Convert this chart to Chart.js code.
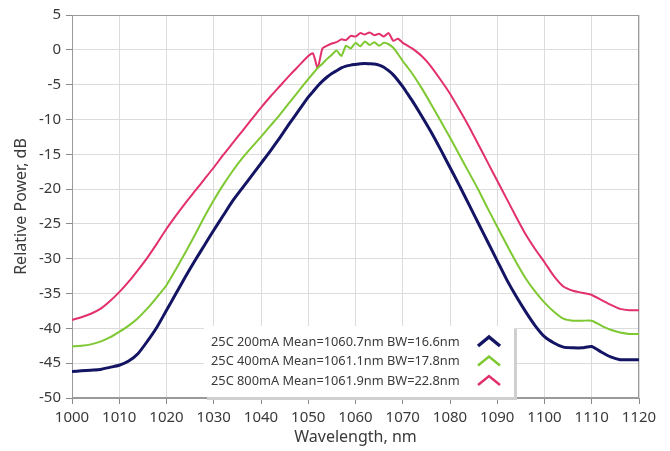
<!DOCTYPE html>
<html><head><meta charset="utf-8">
<script src="https://cdn.jsdelivr.net/npm/chart.js@4"></script>
<style>html,body{margin:0;padding:0;background:#fff;} canvas{display:block}</style>
</head><body>
<canvas id="c" width="670" height="451"></canvas>
<script>
// Wavelength (nm)
const wavelengths = [
  1000,1002,1004,1006,1008,1010,1012,1014,1016,1018,1020,1022,1024,1026,1028,1030,1032,1034,1036,1038,1040,1042,1044,1046,1048,
  1050,1051,1052,1053,1054,1055,1056,1057,1058,1059,1060,1061,1062,1063,1064,1065,1066,1067,1068,1069,1070,1071,1072,
  1074,1076,1078,1080,1082,1084,1086,1088,1090,1092,1094,1096,1098,1100,1102,1104,1106,1108,1110,1112,1114,1116,1118,1120
];
// 25C 200mA
const power200 = [
  -46.2,-46.1,-46.0,-45.9,-45.6,-45.3,-44.7,-43.6,-41.8,-39.8,-37.4,-35.0,-32.6,-30.3,-28.1,-25.9,-23.8,-21.7,-19.9,-18.1,-16.3,-14.5,-12.6,-10.6,-8.7,
  -6.8,-6.0,-5.2,-4.5,-3.9,-3.4,-3.0,-2.6,-2.35,-2.2,-2.1,-2.0,-1.95,-2.0,-2.05,-2.2,-2.5,-3.0,-3.6,-4.4,-5.3,-6.3,-7.3,
  -9.5,-11.8,-14.3,-16.9,-19.5,-22.2,-24.9,-27.6,-30.3,-33.0,-35.4,-37.6,-39.6,-41.2,-42.1,-42.7,-42.8,-42.8,-42.6,-43.4,-44.1,-44.5,-44.5,-44.5
];
// 25C 400mA
const power400 = [
  -42.6,-42.5,-42.3,-41.9,-41.3,-40.5,-39.6,-38.5,-37.1,-35.5,-33.8,-31.5,-29.1,-26.6,-24.0,-21.6,-19.4,-17.4,-15.6,-14.0,-12.5,-10.9,-9.3,-7.6,-5.9,
  -4.2,-3.4,-2.6,-2.0,-1.3,-0.7,-0.1,-0.9,0.6,0.2,1.0,0.5,1.2,0.7,1.1,0.6,1.0,0.8,0.3,-0.6,-1.6,-2.5,-3.4,
  -5.5,-7.8,-10.2,-12.6,-15.1,-17.6,-20.1,-22.8,-25.4,-28.0,-30.5,-32.8,-34.7,-36.3,-37.6,-38.6,-38.9,-38.9,-38.9,-39.6,-40.2,-40.6,-40.8,-40.8
];
// 25C 800mA
const power800 = [
  -38.8,-38.4,-37.9,-37.2,-36.1,-34.8,-33.3,-31.6,-29.8,-27.8,-25.7,-23.8,-22.0,-20.3,-18.6,-16.9,-15.1,-13.4,-11.7,-10.0,-8.3,-6.7,-5.2,-3.7,-2.3,
  -0.9,-0.5,-2.6,0.2,0.6,0.9,1.1,1.5,1.4,2.0,1.9,2.4,2.2,2.5,2.1,2.3,1.9,2.4,1.3,1.6,1.0,0.6,0.2,
  -0.9,-2.4,-4.3,-6.3,-8.6,-11.0,-13.6,-16.2,-18.8,-21.4,-24.0,-26.5,-28.6,-30.5,-32.5,-34.0,-34.6,-34.9,-35.2,-35.9,-36.6,-37.2,-37.4,-37.4
];
const seriesLabels = [
  '25C 200mA Mean=1060.7nm BW=16.6nm',
  '25C 400mA Mean=1061.1nm BW=17.8nm',
  '25C 800mA Mean=1061.9nm BW=22.8nm'
];
const seriesColors = ['#141464', '#7ec832', '#e2306c'];
const seriesWidths = [3, 2, 2];
const allPower = [power200, power400, power800];

const FONT = '"Noto Sans", "Open Sans", sans-serif';
const TEXT = '#3a3a3a';

const framePlugin = {
  id: 'frame',
  beforeDatasetsDraw(chart) {
    const {ctx, chartArea: a} = chart;
    ctx.save();
    ctx.strokeStyle = '#9a9a9a';
    ctx.lineWidth = 1;
    ctx.strokeRect(a.left + 0.5, a.top + 0.5, a.right - a.left - 1, a.bottom - a.top - 1);
    ctx.restore();
  }
};

const legendPlugin = {
  id: 'boxLegend',
  afterDatasetsDraw(chart) {
    const {ctx, chartArea: a} = chart;
    const L = a.left + 132, T = a.bottom - 72, W = 310, H = 71;
    ctx.save();
    ctx.fillStyle = '#cfcfcf';
    ctx.fillRect(L + 3, T + 3, W, H);
    ctx.fillStyle = '#ffffff';
    ctx.fillRect(L, T, W, H);
    ctx.font = '12.8px ' + FONT;
    ctx.textBaseline = 'middle';
    ctx.textAlign = 'left';
    chart.data.datasets.forEach((ds, i) => {
      const cy = T + 16 + i * 19.5;
      ctx.fillStyle = TEXT;
      ctx.fillText(ds.label, L + 7, cy);
      const cx = L + 285;
      ctx.strokeStyle = ds.borderColor;
      ctx.lineWidth = ds.borderWidth + 0.5;
      ctx.lineJoin = 'miter';
      ctx.beginPath();
      ctx.moveTo(cx - 11, cy + 4);
      ctx.lineTo(cx, cy - 5);
      ctx.lineTo(cx + 11, cy + 4);
      ctx.stroke();
    });
    ctx.restore();
  }
};

new Chart(document.getElementById('c'), {
  type: 'line',
  data: {
    datasets: allPower.map((p, i) => ({
      label: seriesLabels[i],
      data: wavelengths.map((w, k) => ({x: w, y: p[k]})),
      borderColor: seriesColors[i],
      backgroundColor: seriesColors[i],
      borderWidth: seriesWidths[i],
      pointRadius: 0,
      tension: 0.2,
      fill: false
    }))
  },
  options: {
    responsive: false,
    animation: false,
    devicePixelRatio: 1,
    layout: {padding: {top: 15, right: 31, left: 0, bottom: 0}},
    plugins: {legend: {display: false}, tooltip: {enabled: false}},
    scales: {
      x: {
        type: 'linear', min: 1000, max: 1120,
        afterFit(s) { s.height = 53; },
        ticks: {stepSize: 10, color: TEXT, font: {family: FONT, size: 15}, padding: 5, maxRotation: 0,
                callback: v => String(v)},
        grid: {color: '#dcdcdc', tickColor: '#8a8a8a', tickLength: 6},
        border: {color: '#9a9a9a'},
        title: {display: true, text: 'Wavelength, nm', color: TEXT, font: {family: FONT, size: 16}, padding: {top: 4, bottom: 4}}
      },
      y: {
        min: -50, max: 5,
        afterFit(s) { s.width = 72; },
        ticks: {stepSize: 5, color: TEXT, font: {family: FONT, size: 15}, padding: 5,
                callback: v => String(v)},
        grid: {color: '#dcdcdc', tickColor: '#8a8a8a', tickLength: 6},
        border: {color: '#9a9a9a'},
        title: {display: true, text: 'Relative Power, dB', color: TEXT, font: {family: FONT, size: 16}, padding: {top: 12, bottom: 2}}
      }
    }
  },
  plugins: [framePlugin, legendPlugin]
});
</script>
</body></html>
